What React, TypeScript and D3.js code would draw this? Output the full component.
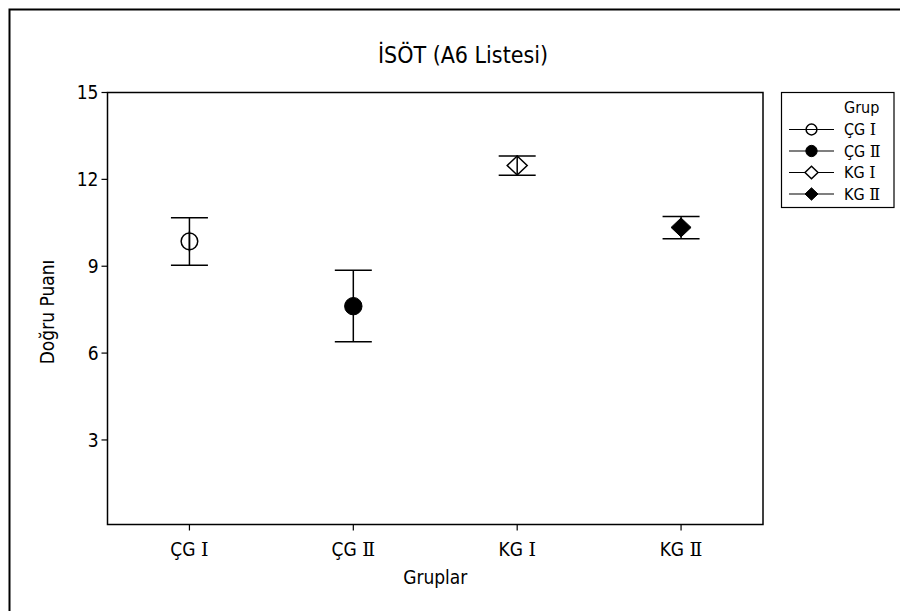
import React from "react";
import * as d3 from "d3";

const categories = ["ÇG Ⅰ", "ÇG Ⅱ", "KG Ⅰ", "KG Ⅱ"];
const means = [9.86, 7.62, 12.48, 10.34];
const upper = [10.67, 8.86, 12.81, 10.72];
const lower = [9.03, 6.39, 12.14, 9.95];
const symbols = ["circleOpen", "circleFilled", "diamondOpen", "diamondFilled"];
const yTicks = [3, 6, 9, 12, 15];
const title = "İSÖT (A6 Listesi)";
const xLabel = "Gruplar";
const yLabel = "Doğru Puanı";
const legendTitle = "Grup";

const W = 900, H = 611;
const M = { left: 107.5, right: 763, top: 92.5, bottom: 524.5 };
const FONT = "'DejaVu Sans Condensed', 'DejaVu Sans', Tahoma, sans-serif";
const SERIF = "'DejaVu Serif', 'Liberation Serif', serif";

function CatText({ label, ...rest }: any) {
  const k = label.lastIndexOf(" ");
  return (
    <text {...rest}>
      {label.slice(0, k + 1)}
      <tspan fontFamily={SERIF}>{label.slice(k + 1)}</tspan>
    </text>
  );
}

function Marker({ kind, x, y, s }: { kind: string; x: number; y: number; s: number }) {
  if (kind === "circleOpen")
    return <circle cx={x} cy={y} r={s * 0.83} fill="none" stroke="#000" strokeWidth={1.5} />;
  if (kind === "circleFilled")
    return <circle cx={x} cy={y} r={s * 0.87} fill="#000" stroke="#000" strokeWidth={1} />;
  const hw = s, hh = s * 0.95;
  const d = `M${x},${y - hh}L${x + hw},${y}L${x},${y + hh}L${x - hw},${y}Z`;
  if (kind === "diamondOpen") return <path d={d} fill="#fff" stroke="#000" strokeWidth={1.5} />;
  return <path d={d} fill="#000" stroke="#000" strokeWidth={1} />;
}

export default function App() {
  const x = d3.scalePoint<string>().domain(categories).range([M.left, M.right]).padding(0.5);
  const y = d3.scaleLinear().domain([0.08, 15]).range([M.bottom, M.top]);
  const capHalf = 18.5;
  const legendY = d3.scaleLinear().domain([0, 1]).range([129.5, 151]);

  return (
    <svg width={W} height={H} style={{ position: "absolute", left: 0, top: 0, background: "#fff" }} fontFamily={FONT}>
      <rect x={0} y={0} width={W} height={H} fill="#fff" />
      <rect x={9.5} y={9.5} width={W + 20} height={H + 20} fill="none" stroke="#000" strokeWidth={2} />
      <text x={463} y={63} textAnchor="middle" fontSize={23}>{title}</text>
      <rect x={M.left} y={M.top} width={M.right - M.left} height={M.bottom - M.top} fill="none" stroke="#000" strokeWidth={1.5} />
      {yTicks.map((t) => (
        <g key={t}>
          <line x1={M.left - 6} x2={M.left} y1={y(t)} y2={y(t)} stroke="#000" strokeWidth={1.2} />
          <text x={M.left - 9} y={y(t)} dy="0.35em" textAnchor="end" fontSize={19}>{t}</text>
        </g>
      ))}
      {categories.map((c) => (
        <g key={c}>
          <line x1={x(c)!} x2={x(c)!} y1={M.bottom} y2={M.bottom + 6} stroke="#000" strokeWidth={1.2} />
          <CatText label={c} x={x(c)!} y={M.bottom + 31} textAnchor="middle" fontSize={19} />
        </g>
      ))}
      <text x={(M.left + M.right) / 2} y={584} textAnchor="middle" fontSize={19}>{xLabel}</text>
      <text transform={`translate(47,312) rotate(-90)`} dy="0.35em" textAnchor="middle" fontSize={19}>{yLabel}</text>
      {categories.map((c, i) => {
        const cx = x(c)!;
        return (
          <g key={c}>
            <line x1={cx} x2={cx} y1={y(upper[i])} y2={y(lower[i])} stroke="#000" strokeWidth={1.5} />
            <line x1={cx - capHalf} x2={cx + capHalf} y1={y(upper[i])} y2={y(upper[i])} stroke="#000" strokeWidth={1.5} />
            <line x1={cx - capHalf} x2={cx + capHalf} y1={y(lower[i])} y2={y(lower[i])} stroke="#000" strokeWidth={1.5} />
            <Marker kind={symbols[i]} x={cx} y={y(means[i])} s={10} />
            {symbols[i].endsWith("Open") && (
              <line x1={cx} x2={cx} y1={y(means[i]) - 10} y2={y(means[i]) + 10} stroke="#000" strokeWidth={1.5} />
            )}
          </g>
        );
      })}
      <rect x={781.5} y={92.5} width={112.5} height={115} fill="#fff" stroke="#000" strokeWidth={1.2} />
      <text x={844} y={107} dy="0.35em" fontSize={16}>{legendTitle}</text>
      {categories.map((c, i) => {
        const ly = legendY(i);
        return (
          <g key={c}>
            <line x1={789} x2={834} y1={ly} y2={ly} stroke="#000" strokeWidth={1.2} />
            <Marker kind={symbols[i]} x={811.5} y={ly} s={6.5} />
            <CatText label={c} x={844} y={ly} dy="0.35em" fontSize={16} />
          </g>
        );
      })}
    </svg>
  );
}
